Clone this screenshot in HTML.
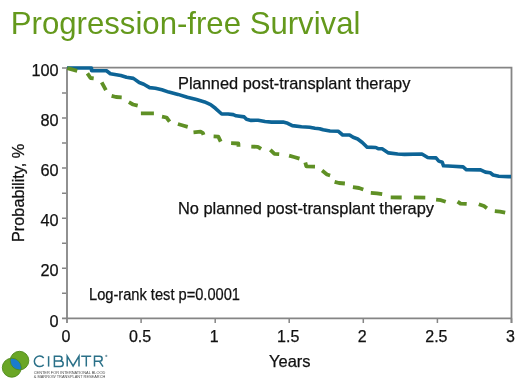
<!DOCTYPE html>
<html><head><meta charset="utf-8"><style>
html,body{margin:0;padding:0;background:#fff;}
body{width:520px;height:384px;position:relative;overflow:hidden;will-change:transform;filter:blur(0.35px);font-family:"Liberation Sans",sans-serif;color:#111;}
.t{position:absolute;white-space:nowrap;line-height:1;-webkit-text-stroke:0.25px currentColor;}
.yl,.xl{-webkit-text-stroke:0.25px currentColor;}
#title{left:10.8px;top:7.6px;font-size:31.15px;color:#64991c;-webkit-text-stroke:0;}
.yl{position:absolute;left:21px;width:37.6px;text-align:right;font-size:16.3px;line-height:16px;}
.xl{position:absolute;top:329px;width:60px;text-align:center;font-size:16px;line-height:16px;}
svg{position:absolute;left:0;top:0;}
</style></head><body>
<div class="t" id="title">Progression-free Survival</div>
<svg width="520" height="384" viewBox="0 0 520 384">
<path d="M62 318.3H512M67 67.7H511.5V323M67 67V323" fill="none" stroke="#858585" stroke-width="1.8"/>
<path d="M62 293.3H66M62 268.2H66M62 243.2H66M62 218.2H66M62 193.2H66M62 168.1H66M62 143.1H66M62 118.1H66M62 93.0H66M62 68.0H66M141.1 318.3V323M215.2 318.3V323M289.2 318.3V323M363.3 318.3V323M437.4 318.3V323M511.5 318.3V323" fill="none" stroke="#858585" stroke-width="1.5"/>
<path d="M67.0 68.0 L91.5 68.0 L91.5 70.6 L106.5 70.8 L110.4 73.8 L120.8 75.5 L126.5 77.3 L133.4 78.4 L139.2 82.5 L143.8 84.2 L149.6 87.6 L155.4 88.2 L161.9 89.8 L168.8 92.1 L178.1 94.4 L187.3 97.3 L196.5 99.6 L204.6 101.9 L210.6 104.6 L215.4 108.3 L221.7 114.0 L228.1 114.0 L233.3 114.6 L236.1 115.8 L244.2 116.9 L246.5 119.2 L251.1 120.4 L258.1 120.2 L265.0 121.5 L271.5 122.1 L283.1 122.1 L287.7 123.3 L292.3 125.6 L301.5 126.7 L309.6 127.3 L315.0 128.3 L319.6 128.7 L323.1 129.8 L330.0 131.0 L338.1 131.2 L342.7 135.0 L349.6 135.0 L353.1 137.3 L357.7 139.0 L362.3 142.5 L366.9 147.1 L375.8 147.5 L378.1 148.6 L382.1 148.8 L388.5 152.9 L397.7 154.0 L404.6 154.4 L421.9 154.0 L427.7 157.5 L429.6 157.7 L436.0 157.9 L438.8 161.1 L442.3 162.3 L443.5 165.8 L452.7 166.3 L463.1 166.9 L466.5 169.8 L480.6 169.9 L485.4 172.1 L490.2 172.8 L493.1 175.0 L498.8 176.2 L508.5 176.6 L511.0 176.6" fill="none" stroke="#0d6496" stroke-width="3.6" stroke-linejoin="round"/>
<path d="M67.3 68.1L77.2 70.8M87.4 73.4L90.5 78.0L93.7 78.4M101.7 82.4L105.9 90.1M111.6 95.8L116.0 97.0L121.7 97.3M128.9 102.2L133.0 104.5L137.7 105.7M140.9 113.4L153.9 113.4M162.0 116.6L166.5 117.5L169.6 121.6M177.9 124.0L183.0 125.5L187.7 126.8M193.5 132.3L200.5 131.6L203.0 133.2L203.5 134.9M213.6 136.4L218.3 136.6L220.7 141.6M231.1 143.2L238.4 143.5L238.5 146.7M251.3 146.6L257.8 146.8L261.1 148.9M270.3 149.8L274.5 153.8L279.2 154.2M289.1 155.6L294.0 157.0L299.5 158.6M305.3 162.5L306.3 166.3L315.0 166.6M322.1 170.6L327.0 174.5L330.1 175.5M334.6 181.8L339.0 183.0L344.9 183.5M352.9 187.2L359.0 188.0L363.3 189.5M370.8 192.9L377.0 193.4L382.2 194.2M390.7 197.4L401.7 197.5M413.9 197.4L425.3 197.6M436.1 199.7L441.0 200.2L445.7 201.8M457.6 201.6L460.5 203.6L466.7 203.9M478.8 204.2L484.0 206.0L486.9 208.2M494.8 211.1L500.0 211.6L505.2 212.6" fill="none" stroke="#5f9025" stroke-width="3.8" stroke-linejoin="round"/>
</svg>
<div class="yl" style="top:312.5px">0</div><div class="yl" style="top:262.4px">20</div><div class="yl" style="top:212.4px">40</div><div class="yl" style="top:162.3px">60</div><div class="yl" style="top:112.3px">80</div><div class="yl" style="top:62.2px">100</div>
<div class="xl" style="left:36.0px">0</div><div class="xl" style="left:110.1px">0.5</div><div class="xl" style="left:184.2px">1</div><div class="xl" style="left:258.2px">1.5</div><div class="xl" style="left:332.3px">2</div><div class="xl" style="left:406.4px">2.5</div><div class="xl" style="left:480.5px">3</div>
<div class="t" style="left:178px;top:75.3px;font-size:16.4px;">Planned post-transplant therapy</div>
<div class="t" style="left:178px;top:200.2px;font-size:16.4px;">No planned post-transplant therapy</div>
<div class="t" style="left:89px;top:287px;font-size:16px;transform:scaleX(0.915);transform-origin:0 0;">Log-rank test p=0.0001</div>
<div class="t" style="left:269px;top:352.5px;font-size:16.5px;">Years</div>
<div class="t" style="left:9.5px;top:242.3px;font-size:16.3px;transform:rotate(-90deg);transform-origin:0 0;">Probability, %</div>
<svg width="110" height="39" style="left:0;top:345px" viewBox="0 0 110 39">
<defs><clipPath id="cp"><circle cx="19.5" cy="15.6" r="9.3"/></clipPath></defs>
<circle cx="19.5" cy="15.6" r="9.3" fill="#6aa626"/>
<circle cx="11.8" cy="22.7" r="9.5" fill="#6aa626"/>
<circle cx="11.8" cy="22.7" r="9.5" fill="#1a7ccc" clip-path="url(#cp)"/>
<circle cx="19.5" cy="15.6" r="9.3" fill="none" stroke="#4f8a1c" stroke-width="0.9"/>
<circle cx="11.8" cy="22.7" r="9.5" fill="none" stroke="#4f8a1c" stroke-width="0.9"/>
<g fill="none" stroke="#2a7088" stroke-width="1.5">
<path d="M43.7 12.9A5.3 5.3 0 1 0 43.7 19.7"/>
<path d="M48.6 11.2V21.6"/>
<path d="M54.4 21.6V11.2H59.6A2.4 2.4 0 0 1 59.6 16H54.4H60.4A2.8 2.8 0 0 1 60.4 21.6Z"/>
<path d="M67.2 21.6V11.2L73.1 21L79 11.2V21.6"/>
<path d="M81.2 11.2H91.2M86.3 11.2V21.6"/>
<path d="M94.5 21.6V11.2H99.6A2.5 2.5 0 0 1 99.6 16.2H94.5M99.3 16.2L103 21.6"/>
</g>
<circle cx="106.3" cy="10.9" r="1.1" fill="#7a9aa6"/>
<text x="33.8" y="28.8" font-family="Liberation Sans" font-size="3.3" fill="#4a4a4a" textLength="71.5" lengthAdjust="spacingAndGlyphs">CENTER FOR INTERNATIONAL BLOOD</text>
<text x="33.8" y="32.7" font-family="Liberation Sans" font-size="3.3" fill="#4a4a4a" textLength="71.5" lengthAdjust="spacingAndGlyphs">&amp; MARROW TRANSPLANT RESEARCH</text>
</svg>
</body></html>
